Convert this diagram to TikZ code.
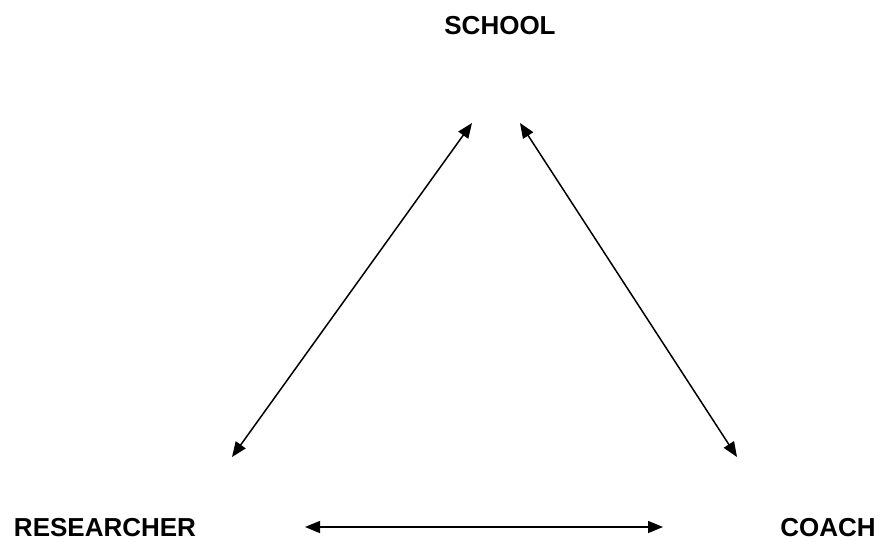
\documentclass[tikz,border=0pt]{standalone}
\usepackage{fontspec}
\setmainfont{Liberation Sans}
\usetikzlibrary{arrows.meta}

\begin{document}
\begin{tikzpicture}[x=1pt,y=-1pt,>={Triangle[length=15pt,width=12pt]},
  party/.style={font=\fontsize{26}{30}\selectfont\bfseries,inner sep=0pt}]
  \useasboundingbox (0,0) rectangle (881,541);
  \node[party] (school) at (500,26) {SCHOOL};
  \node[party] (researcher) at (105,528) {RESEARCHER};
  \node[party] (coach) at (828,528) {COACH};
  \coordinate (RS) at (232,457);
  \coordinate (SR) at (472,123);
  \coordinate (SC) at (520,123);
  \coordinate (CS) at (737,457);
  \coordinate (RC) at (305,527);
  \coordinate (CR) at (663,527);
  \draw[<->,line width=1.5pt] (RS)--(SR);
  \draw[<->,line width=1.5pt] (SC)--(CS);
  \draw[<->,line width=1.5pt] (RC)--(CR);
\end{tikzpicture}
\end{document}
